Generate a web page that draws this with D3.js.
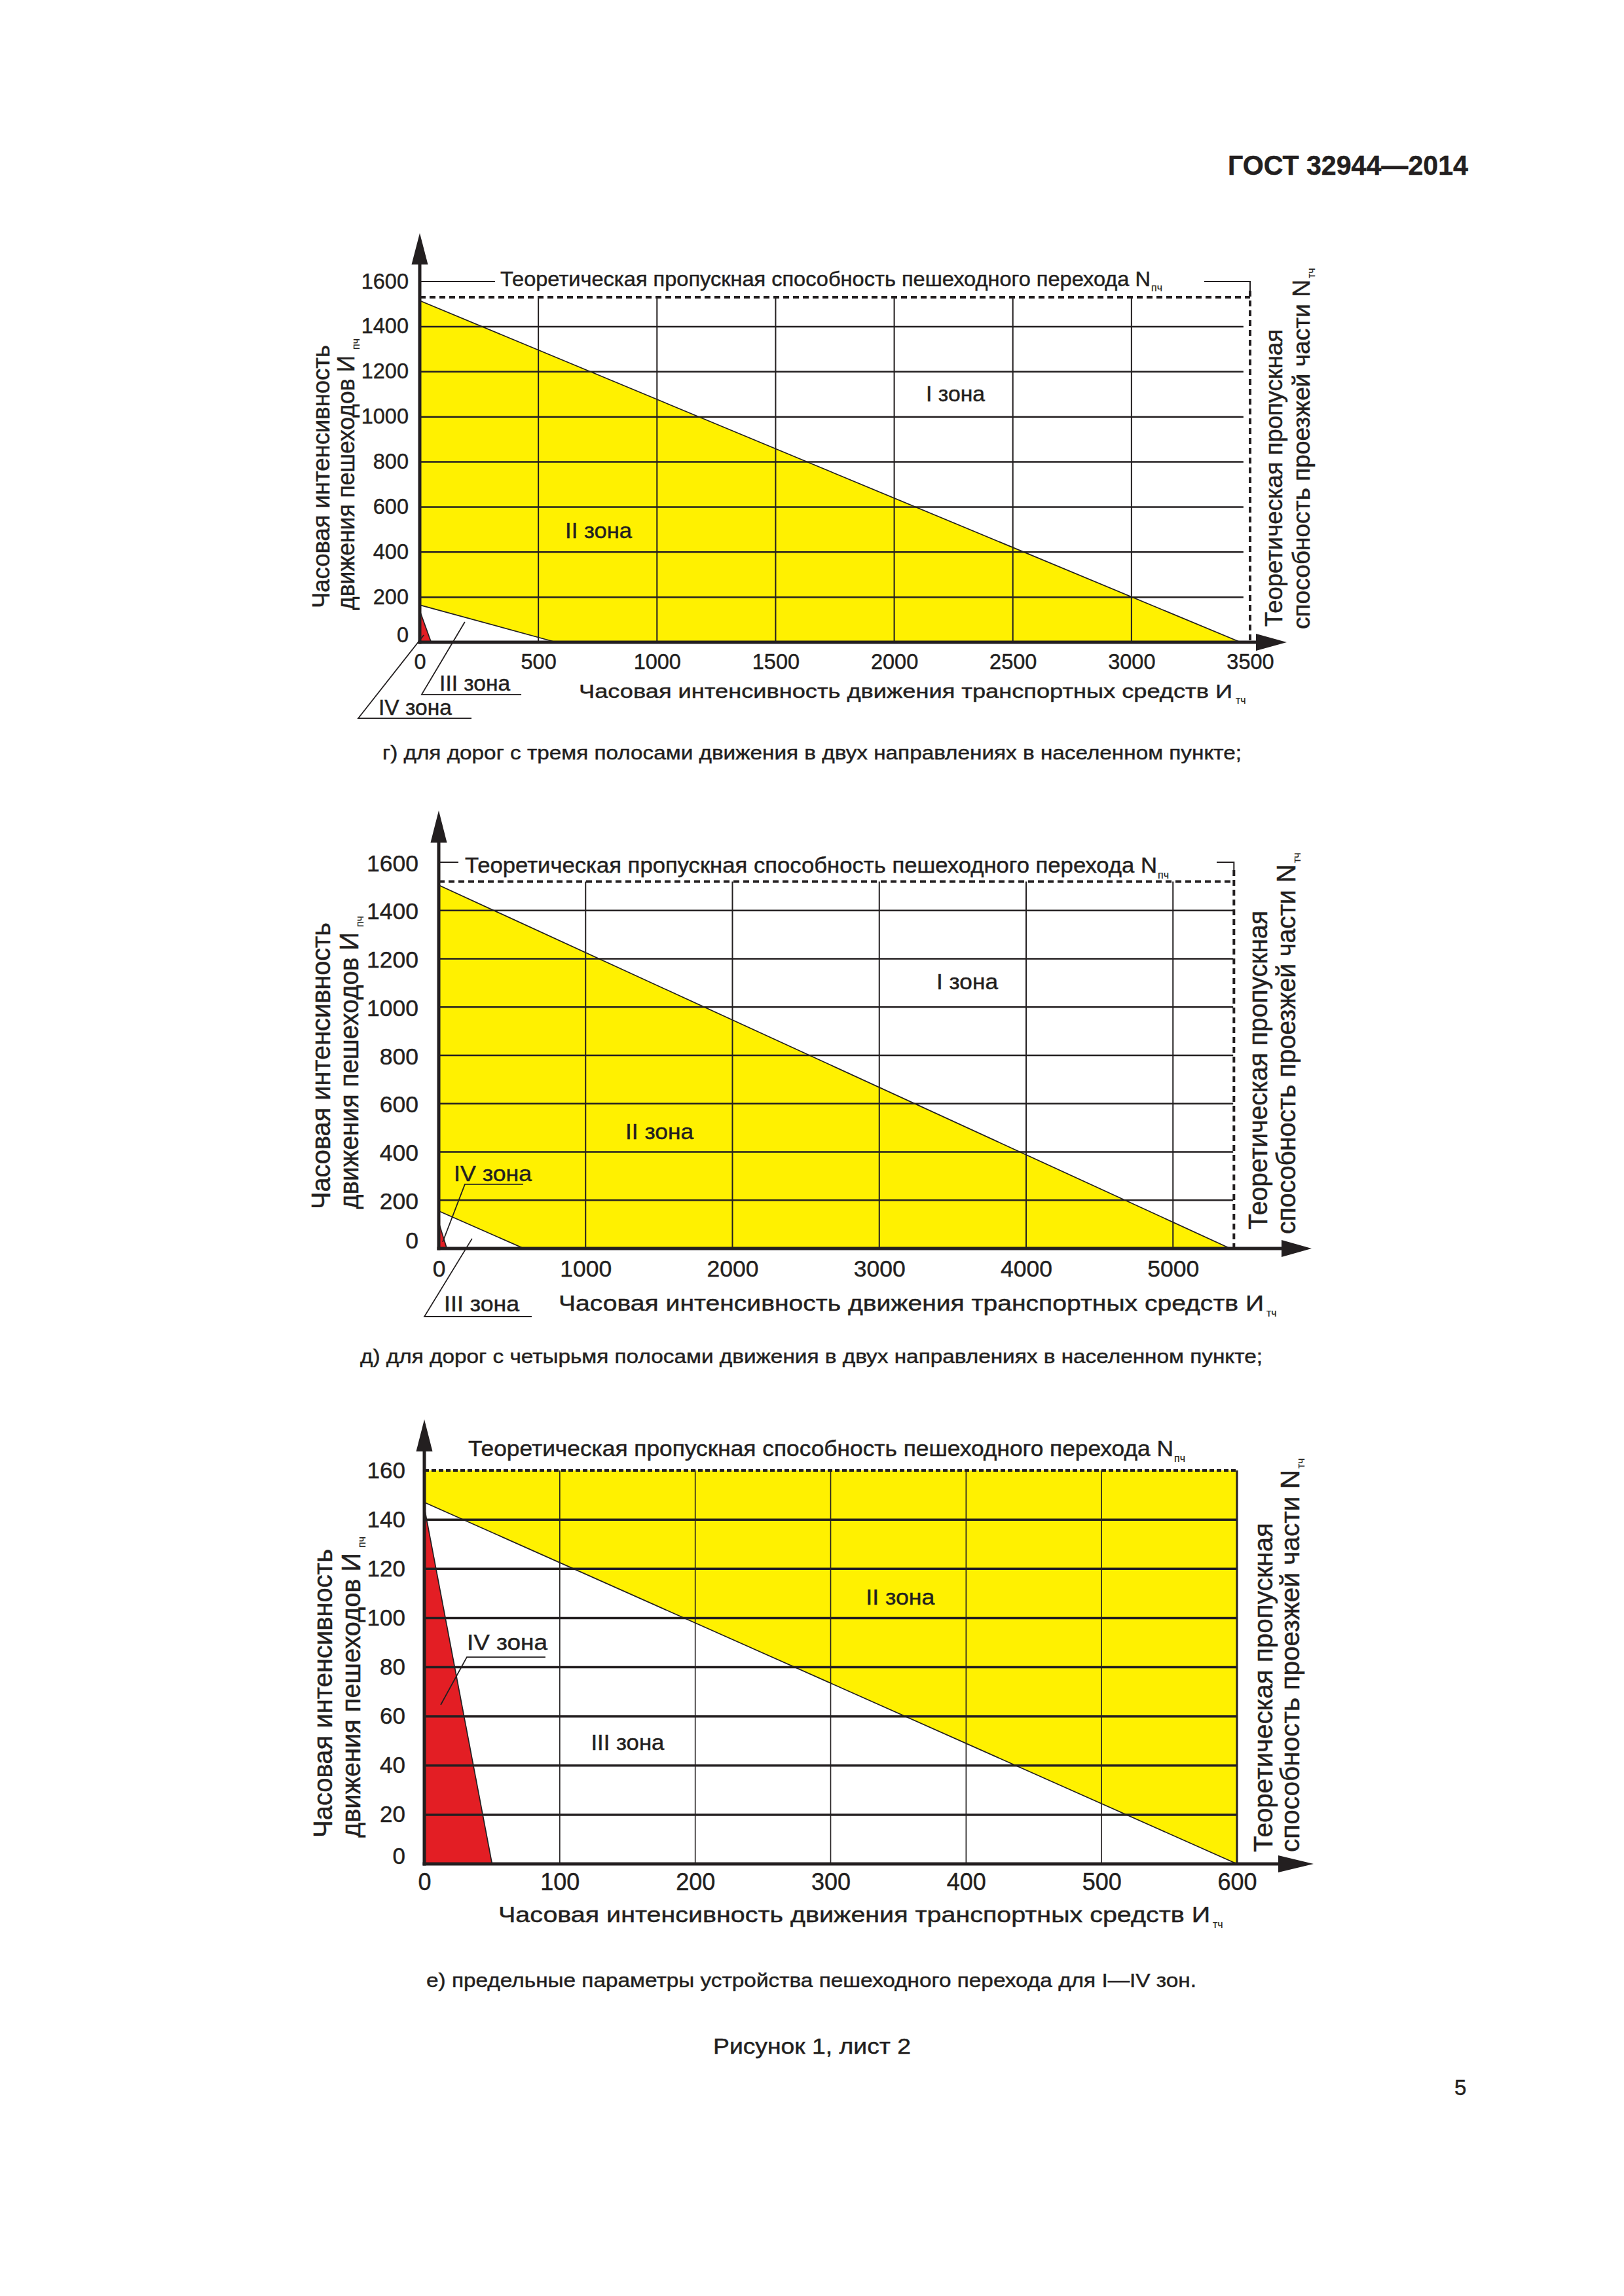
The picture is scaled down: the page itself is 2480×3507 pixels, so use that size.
<!DOCTYPE html>
<html><head><meta charset="utf-8">
<script src="https://cdn.jsdelivr.net/npm/d3@7"></script>
<style>
body{margin:0;background:#fff}
svg{display:block;font-family:"Liberation Sans",Arial,Helvetica,sans-serif}
svg text{stroke:#231f20;stroke-width:0.45px}
</style>
</head><body><script>
// ================= DATA =================
// Chart г — three lanes
const gXTicks = [0,500,1000,1500,2000,2500,3000,3500];
const gYTicks = [0,200,400,600,800,1000,1200,1400,1600];
const gGridX = [500,1000,1500,2000,2500,3000];
const gGridY = [200,400,600,800,1000,1200,1400];
const gCapacity = [3500,1530];            // [N_тч, N_пч]
const gZone2Upper = [[0,1515],[3460,0]];  // I / II boundary
const gZone3Upper = [[0,165],[575,0]];    // II / III boundary
const gZone4 = [[0,140],[48,0]];          // IV zone edge
const gZoneNames = ["I зона","II зона","III зона","IV зона"];

// Chart д — four lanes
const dXTicks = [0,1000,2000,3000,4000,5000];
const dYTicks = [0,200,400,600,800,1000,1200,1400,1600];
const dGridX = [1000,2000,3000,4000,5000];
const dGridY = [200,400,600,800,1000,1200,1400];
const dCapacity = [5415,1520];
const dZone2Upper = [[0,1505],[5390,0]];
const dZone3Upper = [[0,155],[580,0]];
const dZone4 = [[0,108],[55,0]];
const dZoneNames = ["I зона","II зона","III зона","IV зона"];

// Chart е — limit parameters
const eXTicks = [0,100,200,300,400,500,600];
const eYTicks = [0,20,40,60,80,100,120,140,160];
const eGridX = [100,200,300,400,500];
const eGridY = [20,40,60,80,100,120,140];
const eCapacity = [600,160];
const eZone2Upper = [[0,160],[600,160],[600,0]];
const eZone3Upper = [[0,147],[600,0]];
const eZone4 = [[0,145],[50,0]];
const eZoneNames = ["II зона","III зона","IV зона"];

// Texts
const topTitle = "Теоретическая пропускная способность пешеходного перехода N";
const topSub = "пч";
const xTitle = "Часовая интенсивность движения транспортных средств И";
const xSub = "тч";
const yTitle1 = "Часовая интенсивность";
const yTitle2 = "движения пешеходов И";
const ySub = "пч";
const rTitle1 = "Теоретическая пропускная";
const rTitle2 = "способность проезжей части N";
const rSub = "тч";
const header = "ГОСТ 32944—2014";
const captions = [
  "г) для дорог с тремя полосами движения в двух направлениях в населенном пункте;",
  "д) для дорог с четырьмя полосами движения в двух направлениях в населенном пункте;",
  "е) предельные параметры устройства пешеходного перехода для I—IV зон."
];
const figureText = "Рисунок 1, лист 2";
const pageNumber = "5";

// ================= DRAWING =================
const INK = "#231f20", YELLOW = "#fff100", RED = "#e31e24";
const svg = d3.select("body").append("svg").attr("width",2480).attr("height",3507);
svg.append("rect").attr("width",2480).attr("height",3507).attr("fill","#fff");

function txt(parent, s, o){
  const g = parent.append("g").attr("transform",`translate(${o.x},${o.y})${o.rot?` rotate(${o.rot})`:""}`);
  const t = g.append("text").attr("font-size",o.size).attr("font-weight",o.weight||400)
    .attr("text-anchor",o.anchor||"start").attr("fill",INK).text(s);
  if(o.width) t.attr("textLength",o.width).attr("lengthAdjust","spacingAndGlyphs");
  if(o.sub){
    const w = o.width || t.node().getComputedTextLength();
    g.append("text").attr("x",w+(o.subDx==null?2:o.subDx)).attr("y",o.subDy||8)
      .attr("font-size",o.subSize||16).attr("fill",INK).style("stroke-width","0.2px").text(o.sub);
  }
  return g;
}

function drawChart(d, L){
  const g = svg.append("g");
  const x = d3.scaleLinear().domain(L.xDom).range(L.xRange);
  const y = d3.scaleLinear().domain(L.yDom).range(L.yRange);
  const line = d3.line().x(p=>x(p[0])).y(p=>y(p[1]));

  // zone fills
  g.append("path").attr("d", line([...d.zone2Upper, ...d.zone3Upper.slice().reverse()])+"Z").attr("fill",YELLOW);
  g.append("path").attr("d", line([[0,0],...d.zone4])+"Z").attr("fill",RED);

  // grid
  g.append("g").selectAll("line").data(d.gridX).join("line")
    .attr("x1",v=>x(v)).attr("x2",v=>x(v)).attr("y1",y(d.gridTop)).attr("y2",y(0))
    .attr("stroke",INK).attr("stroke-width",L.vgW);
  g.append("g").selectAll("line").data(d.gridY).join("line")
    .attr("x1",x(0)).attr("x2",x(d.gridRight)).attr("y1",v=>y(v)).attr("y2",v=>y(v))
    .attr("stroke",INK).attr("stroke-width",L.hgW);

  // zone boundaries
  const bnd = L.chartE ? [d.zone2Upper.slice(1), d.zone3Upper, d.zone4] : [d.zone2Upper, d.zone3Upper, d.zone4];
  g.append("g").selectAll("path").data(bnd).join("path").attr("d",p=>line(p))
    .attr("fill","none").attr("stroke",INK).attr("stroke-width",(p,i)=> (L.chartE && i===0) ? 3 : 1.7);

  // capacity lines
  g.append("line").attr("x1",x(0)).attr("x2",x(d.cap[0])).attr("y1",y(d.cap[1])).attr("y2",y(d.cap[1]))
    .attr("stroke",INK).attr("stroke-width",4).attr("stroke-dasharray",L.dash);
  if(!L.chartE){
    const yTop = y(L.yDom[1]);
    g.append("line").attr("x1",x(d.cap[0])).attr("x2",x(d.cap[0])).attr("y1",yTop+L.bracket.drop).attr("y2",y(0))
      .attr("stroke",INK).attr("stroke-width",4).attr("stroke-dasharray","9,6");
    g.append("line").attr("x1",x(0)).attr("x2",L.bracket.leftEnd).attr("y1",yTop).attr("y2",yTop)
      .attr("stroke",INK).attr("stroke-width",2);
    g.append("path").attr("d",`M${L.bracket.rightStart},${yTop}H${x(d.cap[0])}V${yTop+L.bracket.drop}`)
      .attr("fill","none").attr("stroke",INK).attr("stroke-width",2);
  }

  // axes
  const X0 = x(0), Y0 = y(0);
  g.append("line").attr("x1",X0).attr("x2",X0).attr("y1",Y0+2.5).attr("y2",L.yArrow[1]).attr("stroke",INK).attr("stroke-width",5);
  g.append("line").attr("x1",X0-2.5).attr("x2",L.xArrow[1]).attr("y1",Y0).attr("y2",Y0).attr("stroke",INK).attr("stroke-width",5);
  g.append("path").attr("d",`M${X0},${L.yArrow[0]}L${X0-12.5},${L.yArrow[1]}L${X0+12.5},${L.yArrow[1]}Z`).attr("fill",INK);
  g.append("path").attr("d",`M${L.xArrow[0]},${Y0}L${L.xArrow[1]},${Y0-13}L${L.xArrow[1]},${Y0+13}Z`).attr("fill",INK);

  // tick labels
  const ay = g.append("g").attr("transform",`translate(${X0},0)`)
    .call(d3.axisLeft(y).tickValues(d.yTicks).tickSize(0).tickPadding(L.yPad).tickFormat(d3.format("d")));
  ay.select(".domain").remove();
  ay.attr("font-family",null);
  ay.selectAll("text").attr("font-size",L.yFont).attr("fill",INK)
    .attr("dy",v=> v===0 ? -1 : L.yDy);
  const ax = g.append("g").attr("transform",`translate(0,${Y0})`)
    .call(d3.axisBottom(x).tickValues(d.xTicks).tickSize(0).tickPadding(0).tickFormat(d3.format("d")));
  ax.select(".domain").remove();
  ax.attr("font-family",null);
  ax.selectAll("text").attr("font-size",L.xFont).attr("fill",INK).attr("y",L.xBase).attr("dy",0);

  // titles
  txt(g, topTitle, {...L.top, sub:topSub});
  txt(g, xTitle, {...L.xTitle, sub:xSub});
  txt(g, yTitle1, {...L.yTitle[0], size:L.rotSize, rot:-90});
  txt(g, yTitle2, {...L.yTitle[1], size:L.rotSize, rot:-90, sub:ySub, subDy:8, subSize:16});
  txt(g, rTitle1, {...L.rTitle[0], size:L.rotSize, rot:-90});
  txt(g, rTitle2, {...L.rTitle[1], size:L.rotSize, rot:-90, sub:rSub, subDy:8, subSize:16});

  // zone labels
  d.zoneNames.forEach((s,i)=>{
    const p = L.labels[i];
    txt(g, s, {x:x(p[0]), y:y(p[1]), width:p[2], size:33});
  });
  // callout leaders
  g.append("g").selectAll("path").data(L.callouts).join("path").attr("d",p=>line(p))
    .attr("fill","none").attr("stroke",INK).attr("stroke-width",1.8);
}

drawChart(
  {xTicks:gXTicks,yTicks:gYTicks,gridX:gGridX,gridY:gGridY,gridTop:gCapacity[1],gridRight:3472,
   cap:gCapacity,zone2Upper:gZone2Upper,zone3Upper:gZone3Upper,zone4:gZone4,zoneNames:gZoneNames},
  {xDom:[0,3500],xRange:[641,1909],yDom:[0,1600],yRange:[981,430],
   vgW:2,hgW:2.5,dash:"9,6",yArrow:[356,404],xArrow:[1965,1918],
   yPad:17,yDy:10,yFont:32.5,xBase:41,xFont:32.5,
   top:{x:764,y:437,width:993,size:32,subDy:8,subDx:1},
   bracket:{leftEnd:756,rightStart:1839,drop:14},
   xTitle:{x:884,y:1066,width:998,size:30,subDx:5,subDy:9},
   rotSize:37,
   yTitle:[{x:503,y:929,width:402},{x:541,y:932,width:389,subDx:9}],
   rTitle:[{x:1958,y:957,width:454},{x:2000,y:961,width:534,subDx:2}],
   labels:[[2134,1069,90],[613,462,102],[83,-215,108],[-174,-322,112]],
   callouts:[[[190,90],[8,-232],[428,-232]],[[17,32],[-259,-337],[218,-337]]]}
);

drawChart(
  {xTicks:dXTicks,yTicks:dYTicks,gridX:dGridX,gridY:dGridY,gridTop:dCapacity[1],gridRight:5410,
   cap:dCapacity,zone2Upper:dZone2Upper,zone3Upper:dZone3Upper,zone4:dZone4,zoneNames:dZoneNames},
  {xDom:[0,5000],xRange:[670,1791.25],yDom:[0,1600],yRange:[1907,1317],
   vgW:2,hgW:2.5,dash:"9,6",yArrow:[1238,1287],xArrow:[2003,1957],
   yPad:31,yDy:13,yFont:35.5,xBase:43,xFont:35.5,
   top:{x:710,y:1333,width:1057,size:33,subDy:9,subDx:1},
   bracket:{leftEnd:700,rightStart:1858,drop:12},
   xTitle:{x:853,y:2002,width:1077,size:33,subDx:4,subDy:9},
   rotSize:40,
   yTitle:[{x:504,y:1847,width:438},{x:547,y:1847,width:423,subDx:8}],
   rTitle:[{x:1935,y:1878,width:487},{x:1978,y:1885,width:565,subDx:2}],
   labels:[[3389,1074,94],[1271,453,104],[36,-260,115],[103,279,119]],
   callouts:[[[27,27],[178,266],[575,266]],[[227,41],[-98,-282],[633,-282]]]}
);

drawChart(
  {xTicks:eXTicks,yTicks:eYTicks,gridX:eGridX,gridY:eGridY,gridTop:eCapacity[1],gridRight:600,
   cap:eCapacity,zone2Upper:eZone2Upper,zone3Upper:eZone3Upper,zone4:eZone4,zoneNames:eZoneNames},
  {chartE:true,xDom:[0,600],xRange:[648,1889],yDom:[0,160],yRange:[2847,2246],
   vgW:1.6,hgW:3.5,dash:"7,4",yArrow:[2168,2217],xArrow:[2006,1952],
   yPad:29,yDy:11,yFont:35,xBase:40,xFont:36,
   top:{x:715,y:2224,width:1077,size:33,subDy:9,subDx:1},
   xTitle:{x:761,y:2936,width:1087,size:33,subDx:4,subDy:9},
   rotSize:40,
   yTitle:[{x:507,y:2807,width:441},{x:550,y:2807,width:435,subDx:8}],
   rTitle:[{x:1943,y:2829,width:503},{x:1984,y:2829,width:584,subDx:2}],
   labels:[[326,105.4,105],[123,46.3,112],[31.4,87.1,123]],
   callouts:[[[12.1,64.7],[31.4,84.1],[89.4,84.1]]]}
);

// page texts
txt(svg, header, {x:2242,y:267,size:42,weight:700,anchor:"end",width:367});
txt(svg, captions[0], {x:584,y:1160,size:30,width:1312});
txt(svg, captions[1], {x:550,y:2082,size:30,width:1378});
txt(svg, captions[2], {x:651,y:3035,size:30,width:1176});
txt(svg, figureText, {x:1089,y:3137,size:33,width:302});
txt(svg, pageNumber, {x:2221,y:3200,size:33});
</script></body></html>
